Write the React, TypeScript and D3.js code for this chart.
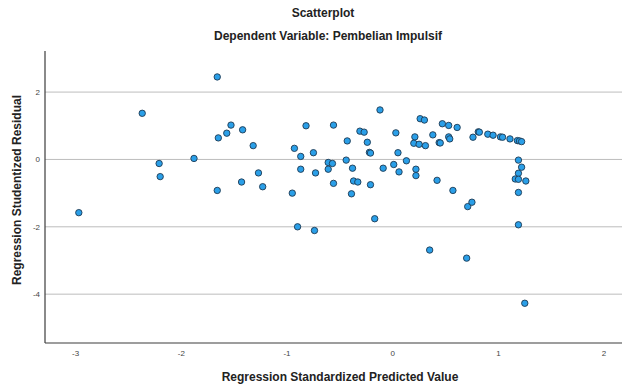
import React from 'react';
import * as d3 from 'd3';

// standardized predicted values (x) and studentized residuals (y)
const predicted = [
  -2.97, -2.37, -2.21, -2.2, -1.88, -1.66, -1.65, -1.66, -1.57, -1.53,
  -1.42, -1.43, -1.32, -1.27, -1.23, -0.95, -0.93, -0.87, -0.82, -0.87,
  -0.75, -0.73, -0.9, -0.74, -0.56, -0.61, -0.57, -0.61, -0.56, -0.43,
  -0.44, -0.38, -0.37, -0.33, -0.39, -0.31, -0.27, -0.24, -0.22, -0.21,
  -0.21, -0.17, -0.12, -0.09, 0.03, 0.05, 0.01, 0.06, 0.13, 0.21,
  0.2, 0.25, 0.31, 0.22, 0.22, 0.26, 0.3, 0.38, 0.42, 0.44,
  0.45, 0.47, 0.53, 0.53, 0.54, 0.57, 0.61, 0.71, 0.75, 0.76,
  0.81, 0.82, 0.9, 0.95, 1.02, 1.04, 1.11, 1.18, 1.2, 1.22,
  1.19, 1.22, 1.19, 1.16, 1.19, 1.26, 1.19, 1.19, 0.35, 0.7, 1.25,
];
const residual = [
  -1.58, 1.37, -0.12, -0.51, 0.03, 2.45, 0.64, -0.92, 0.78, 1.02,
  0.88, -0.67, 0.41, -0.4, -0.81, -1.0, 0.33, 0.09, 1.0, -0.29,
  0.2, -0.4, -2.0, -2.11, 1.02, -0.09, -0.12, -0.29, -0.71, 0.55,
  -0.02, -0.26, -0.64, -0.67, -1.02, 0.84, 0.81, 0.51, 0.21, 0.19,
  -0.75, -1.76, 1.47, -0.26, 0.79, 0.2, -0.15, -0.37, -0.04, 0.67,
  0.48, 0.45, 0.41, -0.29, -0.48, 1.21, 1.17, 0.73, -0.62, 0.5,
  0.49, 1.06, 1.01, 0.67, 0.61, -0.92, 0.95, -1.4, -1.27, 0.66,
  0.82, 0.81, 0.75, 0.72, 0.67, 0.66, 0.61, 0.56, 0.55, 0.53,
  -0.02, -0.23, -0.41, -0.58, -0.59, -0.64, -0.98, -1.94, -2.69, -2.93, -4.27,
];
const xTicks = [-3, -2, -1, 0, 1, 2];
const yTicks = [2, 0, -2, -4];

const chartTitle = 'Scatterplot';
const chartSubtitle = 'Dependent Variable: Pembelian Impulsif';
const xTitle = 'Regression Standardized Predicted Value';
const yTitle = 'Regression Studentized Residual';

const W = 622;
const H = 387;
const plot = { left: 45, right: 622, top: 51, bottom: 343 };
const font = '"Liberation Sans", Arial, sans-serif';

export default function App() {
  const x = d3.scaleLinear().domain([-3.29, 2.17]).range([plot.left, plot.right]);
  const y = d3.scaleLinear().domain([-5.45, 3.22]).range([plot.bottom, plot.top]);

  const points = predicted.map((p, i) => ({ p, r: residual[i] }));

  return (
    <svg
      width={W}
      height={H}
      style={{ position: 'absolute', left: 0, top: 0, background: '#fff' }}
      fontFamily={font}
    >
      {/* titles */}
      <text x={323} y={17} textAnchor="middle" fontSize={12} fontWeight="bold" fill="#222">
        {chartTitle}
      </text>
      <text x={328} y={40} textAnchor="middle" fontSize={12} fontWeight="bold" fill="#222">
        {chartSubtitle}
      </text>

      {/* horizontal grid lines */}
      {yTicks.map(t => (
        <line key={'g' + t} x1={plot.left} x2={plot.right} y1={y(t)} y2={y(t)} stroke="#bdbdbd" strokeWidth={1} />
      ))}

      {/* axes */}
      <line x1={plot.left} x2={plot.left} y1={plot.top} y2={plot.bottom} stroke="#3c3c3c" strokeWidth={1.2} />
      <line x1={plot.left} x2={plot.right} y1={plot.bottom} y2={plot.bottom} stroke="#3c3c3c" strokeWidth={1.2} />

      {yTicks.map(t => (
        <text key={'yt' + t} x={plot.left - 5} y={y(t) + 3} textAnchor="end" fontSize={8} fill="#444">
          {t}
        </text>
      ))}
      {xTicks.map(t => (
        <text key={'xt' + t} x={x(t)} y={plot.bottom + 13} textAnchor="middle" fontSize={8} fill="#444">
          {t}
        </text>
      ))}

      {/* points */}
      {points.map((d, i) => (
        <circle
          key={i}
          cx={x(d.p)}
          cy={y(d.r)}
          r={3.2}
          fill="#2a9fe8"
          stroke="#1e3a52"
          strokeWidth={0.9}
        />
      ))}

      {/* axis titles */}
      <text x={340} y={381} textAnchor="middle" fontSize={12} fontWeight="bold" fill="#222">
        {xTitle}
      </text>
      <text
        transform="translate(21,190) rotate(-90)"
        textAnchor="middle"
        fontSize={12}
        fontWeight="bold"
        fill="#222"
      >
        {yTitle}
      </text>
    </svg>
  );
}
